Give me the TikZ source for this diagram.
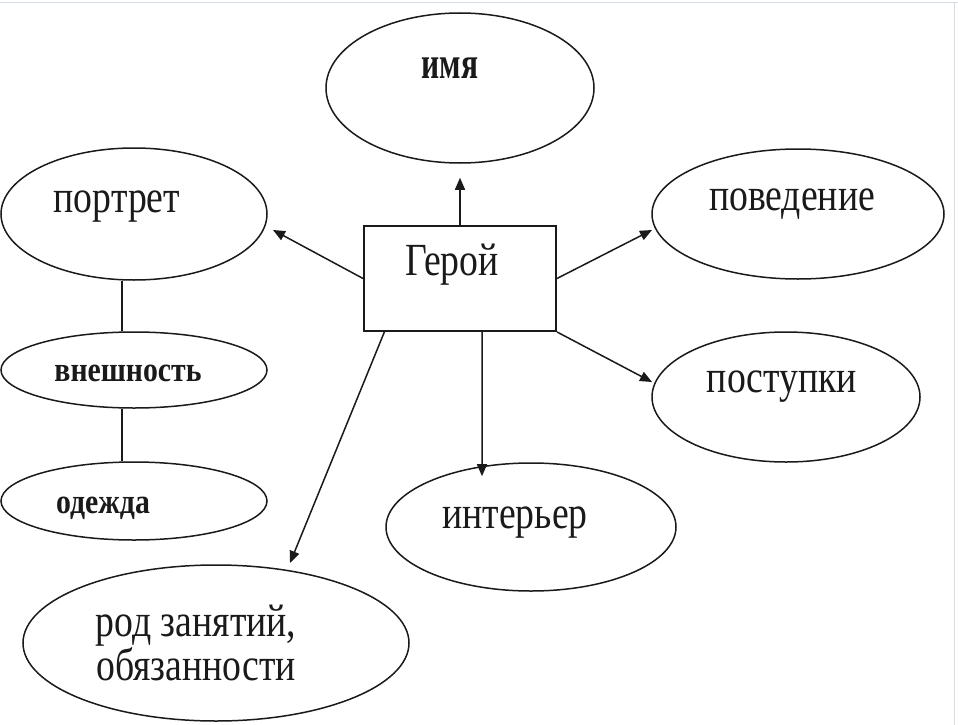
\documentclass[tikz,border=0pt]{standalone}
\usepackage{fontspec}
\setmainfont{Liberation Serif}
\newfontfamily\narrowfont[FakeStretch=0.82]{Liberation Serif}
\newfontfamily\bnarrowfont[FakeStretch=0.85]{Liberation Serif}
\newfontfamily\namefont[FakeStretch=0.7]{Liberation Serif}
\usetikzlibrary{shapes.geometric,arrows.meta,calc}
\definecolor{edgegray}{HTML}{D5DEE6}
\definecolor{ink}{HTML}{1A1A1A}
\begin{document}
\begin{tikzpicture}[x=1pt,y=-1pt,
  oval/.style={draw=ink, ellipse, line width=1.5pt, inner sep=0pt},
  lbl/.style={anchor=base, inner sep=0pt, text=ink, font=\narrowfont\fontsize{46}{40}\selectfont},
  smalllbl/.style={anchor=base, inner sep=0pt, text=ink, font=\bnarrowfont\bfseries\fontsize{35}{35}\selectfont},
  namelbl/.style={anchor=base, inner sep=0pt, text=ink, font=\namefont\bfseries\fontsize{45}{45}\selectfont},
  arr/.style={draw=ink, line width=1.5pt, -{Triangle[length=12pt,width=10pt]}},
  link/.style={draw=ink, line width=1.5pt}]
\useasboundingbox[fill=white] (0,0) rectangle (958,725);
\draw[edgegray, line width=1pt] (0,3) -- (958,3);
\draw[edgegray, line width=1pt] (954,3) -- (954,725);

% ellipses
\node[oval, minimum width=268pt, minimum height=150pt] (imya) at (460,88) {};
\node[oval, minimum width=266pt, minimum height=132pt] (portret) at (134,214) {};
\node[oval, minimum width=266pt, minimum height=76pt] (vnesh) at (134,370) {};
\node[oval, minimum width=266pt, minimum height=78pt] (odezhda) at (134,501) {};
\node[oval, minimum width=292pt, minimum height=130pt] (povedenie) at (798,214) {};
\node[oval, minimum width=268pt, minimum height=130pt] (postupki) at (786,397) {};
\node[oval, minimum width=290pt, minimum height=128pt] (interier) at (531,527) {};
\node[oval, minimum width=386pt, minimum height=156pt] (rod) at (216,643) {};

% hero box
\node[draw=ink, line width=1.9pt, minimum width=192pt, minimum height=105pt, inner sep=0pt] (hero) at (460,278.5) {};

% labels
\node[namelbl] (imyaT) at (450,78) {имя};
\node[lbl] (portretT) at (117,212) {портрет};
\node[smalllbl] (vneshT) at (128,381) {внешность};
\node[smalllbl] (odezhdaT) at (103,513) {одежда};
\node[lbl] (heroT) at (452,275) {Герой};
\node[lbl] (povedenieT) at (792,210) {поведение};
\node[lbl] (postupkiT) at (782,392) {поступки};
\node[lbl] (interierT) at (515,528) {интерьер};
\node[lbl, align=center] (rodT) at (196,680) {род занятий,\\обязанности};

% tips
\coordinate (tipPortret) at (273,230);
\coordinate (tipPoved) at (652,230);
\coordinate (tipPost) at (652,382);
\coordinate (tipRod) at (290,563);

% connectors
\draw[arr, shorten >=14pt] (hero.north) -- (imya.south);
\draw[arr] (hero.west) -- (tipPortret);
\draw[arr] (hero.east) -- (tipPoved);
\draw[arr] (hero.south east) -- (tipPost);
\draw[arr, shorten >=5pt] ($(hero.south west)!0.614!(hero.south east)$) -- ($(interier.north west)!0.5!(interier.north east)+(-49,0)$);
\draw[arr] ($(hero.south west)!0.11!(hero.south east)$) -- (tipRod);
\draw[link] ([xshift=-12pt]portret.south) -- ([xshift=-12pt]vnesh.north);
\draw[link] ([xshift=-12pt]vnesh.south) -- ([xshift=-12pt]odezhda.north);
\end{tikzpicture}
\end{document}
